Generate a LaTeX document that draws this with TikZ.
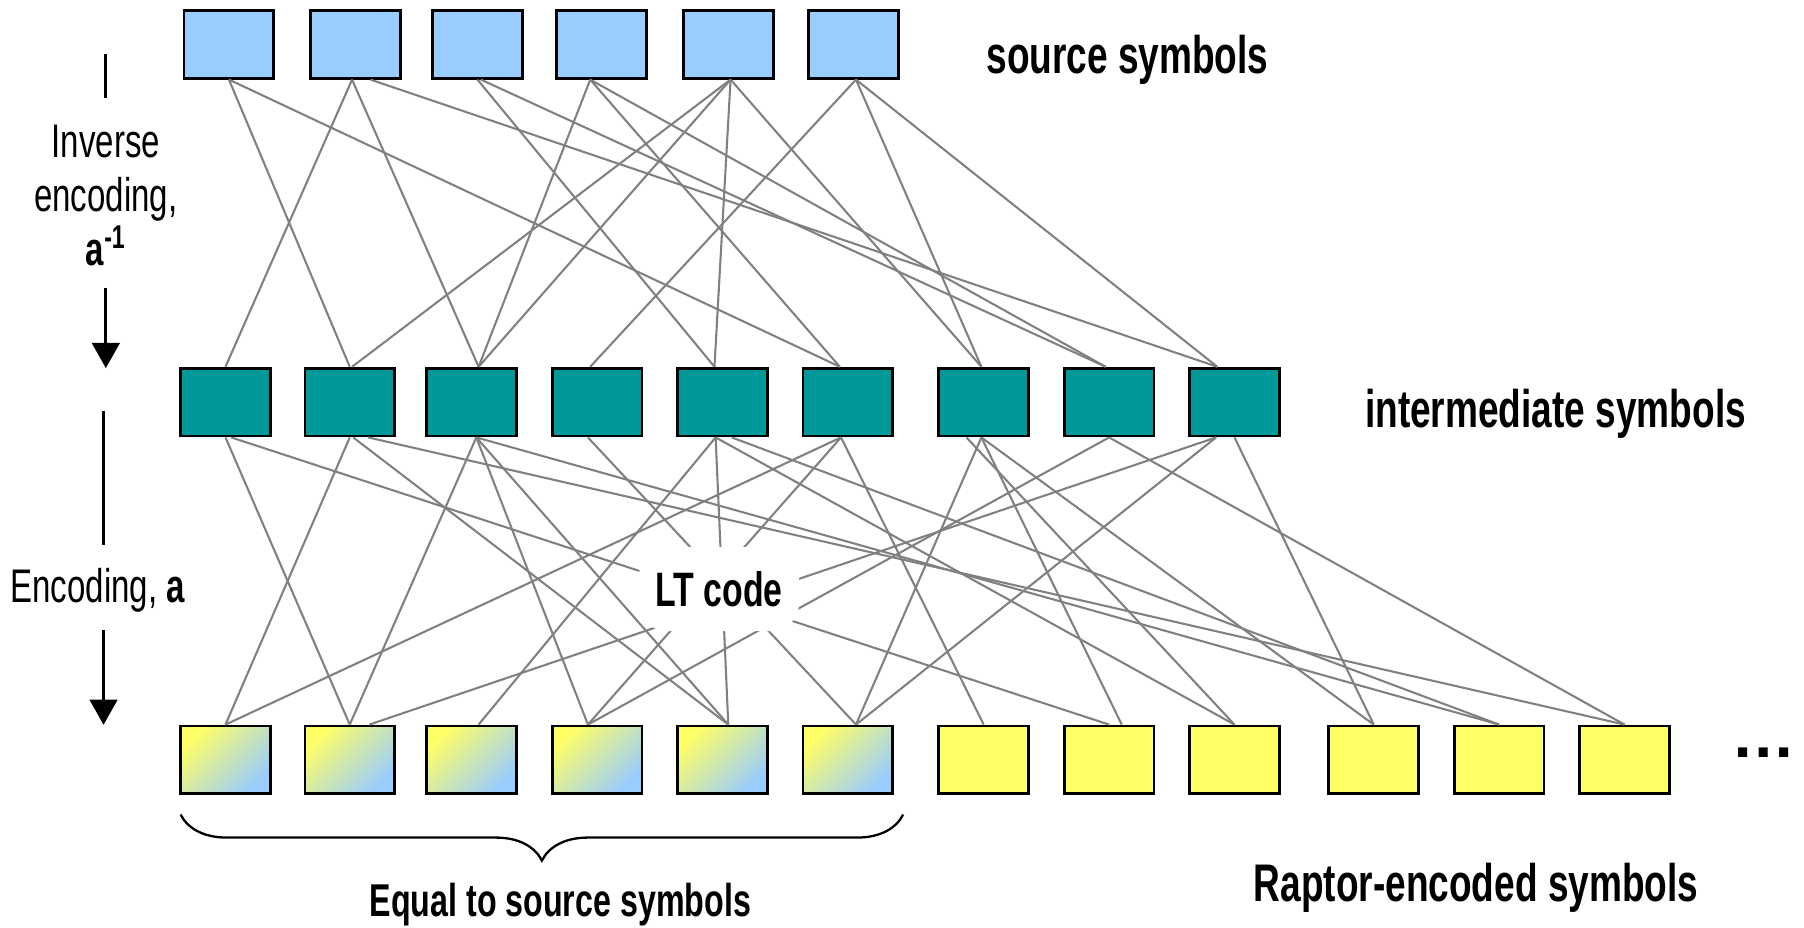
\documentclass[tikz,border=0pt]{standalone}
\usepackage{fontspec}
\setmainfont{Liberation Sans}
\newfontfamily\narrowsans[FakeStretch=0.70]{Liberation Sans}
\usepackage{xcolor}
\usetikzlibrary{arrows.meta,decorations.pathreplacing}

\definecolor{srcblue}{RGB}{153,204,255}
\definecolor{midteal}{RGB}{0,153,153}
\definecolor{encyellow}{RGB}{255,255,102}
\definecolor{linkgray}{RGB}{128,128,128}

\begin{document}
\begin{tikzpicture}[x=0.5pt,y=0.5pt,yscale=-1,xscale=1,
  symbox/.style={draw=black, line width=1.2pt, minimum width=39pt, minimum height=29.5pt, inner sep=0pt},
  srcbox/.style={symbox, fill=srcblue},
  midbox/.style={symbox, fill=midteal},
  encbox/.style={symbox, fill=encyellow},
  eqbox/.style={symbox, top color=encyellow, bottom color=srcblue, middle color=encyellow!50!srcblue, shading angle=45},
  link/.style={draw=linkgray, line width=0.9pt},
  headlabel/.style={font=\narrowsans\bfseries\fontsize{23}{25}\selectfont, inner sep=0pt},
  sidelabel/.style={font=\narrowsans\fontsize{20.5}{23.5}\selectfont, align=center, inner sep=0pt},
  flowarrow/.style={line width=1.3pt, -{Triangle[length=11pt,width=12pt]}}]
\useasboundingbox (0,0) rectangle (1568,806);

% source symbols
\foreach \i/\x in {1/199,2/309,3/415,4/523,5/633,6/742}
  \node[srcbox] (src\i) at (\x,38.5) {};
% intermediate symbols
\foreach \i/\x in {1/196,2/304,3/410,4/519,5/628,6/737,7/855,8/964,9/1073}
  \node[midbox] (mid\i) at (\x,349.5) {};
% encoded symbols
\foreach \i/\x in {1/196,2/304,3/410,4/519,5/628,6/737}
  \node[eqbox] (enc\i) at (\x,660.5) {};
\foreach \i/\x in {7/855,8/964,9/1073,10/1194,11/1303,12/1412}
  \node[encbox] (enc\i) at (\x,660.5) {};

% inverse encoding links (from / shift / to / shift)
\foreach \a/\da/\b/\db in {1/0/2/0, 1/0/6/-3.5, 2/-1.5/1/0, 2/-1.5/3/3, 2/6.5/9/-7.5,
    3/0/5/-3.5, 3/1.5/8/-1.5, 4/-5/3/3, 4/-5/6/-3.5, 4/-5/8/-1.5,
    5/1/2/1, 5/1/3/3, 5/1/5/-3.5, 5/1/7/-1, 6/1/4/-3, 6/1/7/-1, 6/1/9/-7.5}
  \draw[link] ([xshift=\da pt]src\a.south) -- ([xshift=\db pt]mid\b.north);
% LT encoding links (from / shift / to / shift)
\foreach \a/\da/\b/\db in {1/0/2/0, 1/2.5/8/0, 2/0/1/0, 2/1.5/5/2.5, 2/8/12/0,
    3/2/2/0, 3/2/4/-4, 3/2/5/2.5, 3/2/11/0, 4/-4/6/3.5,
    5/-3/3/3, 5/-3/5/2.5, 5/-3/9/0, 5/4/11/0, 6/-3/1/0, 6/-3/4/-4, 6/-3/7/0,
    7/-1/6/3.5, 7/-1/8/5.5, 7/-7.5/9/0, 7/-1/10/0, 8/0/4/-4, 8/0/12/0,
    9/-8/2/8.5, 9/-8/6/3.5, 9/0/10/0}
  \draw[link] ([xshift=\da pt]mid\a.south) -- ([xshift=\db pt]enc\b.north);

% Text Node
\node[headlabel, font=\narrowsans\bfseries\fontsize{21}{23}\selectfont, fill=white, rounded corners=12pt, minimum width=69.5pt, minimum height=36.5pt] (ltcode) at (625,512) {LT code};
\node[headlabel] (srclabel) at (980,52) {source symbols};
\node[headlabel] (midlabel) at (1352,360) {intermediate symbols};
\node[headlabel] (enclabel) at (1283,772) {Raptor-encoded symbols};
\node[headlabel, font=\narrowsans\bfseries\fontsize{20}{22}\selectfont] (eqlabel) at (487,786) {Equal to source symbols};
\node[font=\bfseries\fontsize{28}{30}\selectfont, inner sep=0pt] (more) at (1533,654) {\ldots};

% brace under the systematic part
\coordinate (braceL) at (157,708);
\coordinate (braceR) at (785,708);
\draw[line width=1pt, decorate, decoration={brace, mirror, amplitude=20pt}] (braceL) -- (braceR);

% side arrows
\node[sidelabel] (invlabel) at (92,170) {Inverse\\encoding,\\\textbf{a}\textsuperscript{\textbf{-1}}};
\coordinate (invtop) at (92,47);
\coordinate (invgapA) at (92,85);
\coordinate (invgapB) at (92,250);
\coordinate (invtip) at (92,320);
\draw[line width=1.3pt] (invtop) -- (invgapA);
\draw[flowarrow] (invgapB) -- (invtip);

\node[sidelabel] (enclabelside) at (85,513) {Encoding, \textbf{a}};
\coordinate (enctop) at (90,357);
\coordinate (encgapA) at (90,474);
\coordinate (encgapB) at (90,548);
\coordinate (enctip) at (90,630);
\draw[line width=1.3pt] (enctop) -- (encgapA);
\draw[flowarrow] (encgapB) -- (enctip);

\end{tikzpicture}
\end{document}
